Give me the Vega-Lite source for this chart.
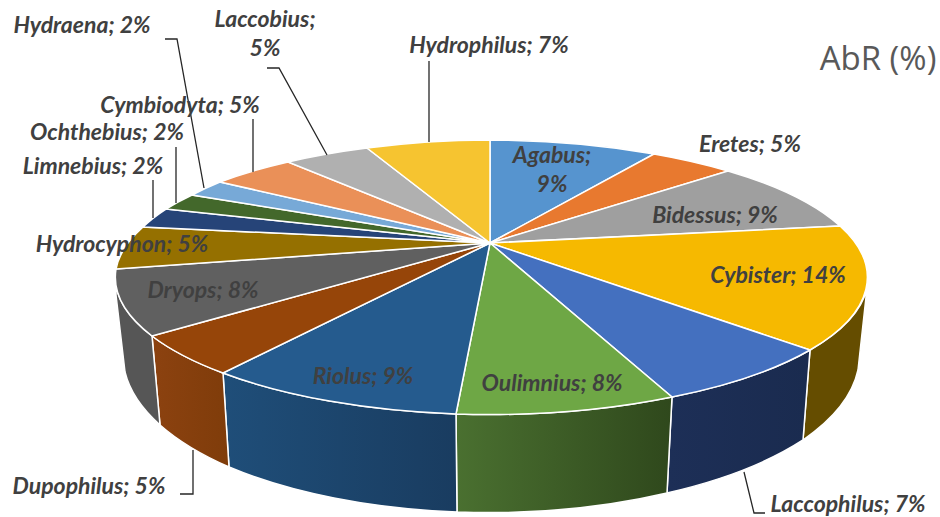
{
"$schema":"https://vega.github.io/schema/vega-lite/v6.json",
"width":940,"height":517,"padding":0,"autosize":"none",
"background":"white",
"view":{"stroke":null},
"datasets":{"slices":[
{"genus":"Agabus","value":9,"label":"Agabus;\n9%","label_x":552,"label_y":156},
{"genus":"Eretes","value":5,"label":"Eretes; 5%","label_x":750,"label_y":145},
{"genus":"Bidessus","value":9,"label":"Bidessus; 9%","label_x":715,"label_y":216},
{"genus":"Cybister","value":14,"label":"Cybister; 14%","label_x":778,"label_y":276},
{"genus":"Laccophilus","value":7,"label":"Laccophilus; 7%","label_x":848,"label_y":505},
{"genus":"Oulimnius","value":8,"label":"Oulimnius; 8%","label_x":552,"label_y":384},
{"genus":"Riolus","value":9,"label":"Riolus; 9%","label_x":363,"label_y":377},
{"genus":"Dupophilus","value":5,"label":"Dupophilus; 5%","label_x":89,"label_y":487},
{"genus":"Dryops","value":8,"label":"Dryops; 8%","label_x":203,"label_y":291},
{"genus":"Hydrocyphon","value":5,"label":"Hydrocyphon; 5%","label_x":122,"label_y":245},
{"genus":"Limnebius","value":2,"label":"Limnebius; 2%","label_x":93,"label_y":167},
{"genus":"Ochthebius","value":2,"label":"Ochthebius; 2%","label_x":107,"label_y":133},
{"genus":"Hydraena","value":2,"label":"Hydraena; 2%","label_x":82,"label_y":26},
{"genus":"Cymbiodyta","value":5,"label":"Cymbiodyta; 5%","label_x":180,"label_y":106},
{"genus":"Laccobius","value":5,"label":"Laccobius;\n5%","label_x":265,"label_y":20},
{"genus":"Hydrophilus","value":7,"label":"Hydrophilus; 7%","label_x":489,"label_y":46}
],"heading":[{"name":"AbR (%)","x":878,"y":60}]},
"data":{"name":"slices"},
"layer":[
{"transform":[{"filter":{"field":"genus","oneOf":["Dryops","Dupophilus","Riolus","Oulimnius","Laccophilus","Cybister"]}}],
"mark":{"type":"point","filled":true,"opacity":1,"stroke":"white","strokeWidth":1.5,"size":4},
"encoding":{
"x":{"datum":0,"type":"quantitative","scale":{"domain":[0,940],"range":[0,940]},"axis":null},
"y":{"datum":0,"type":"quantitative","scale":{"domain":[0,517],"range":[0,517]},"axis":null},
"shape":{"field":"genus","type":"nominal","legend":null,"scale":{"domain":["Dryops","Dupophilus","Riolus","Oulimnius","Laccophilus","Cybister"],"range":[
"M116,285A376,137,0,0,0,152,336L160,425A372,160,0,0,1,125,372L116,295Z",
"M152,336A376,137,0,0,0,223,373L229,467A372,160,0,0,1,160,425Z",
"M223,373A376,137,0,0,0,456,414L457,512A372,160,0,0,1,229,467Z",
"M456,414A376,137,0,0,0,672,397L667,493A372,160,0,0,1,457,512Z",
"M672,397A376,137,0,0,0,810,350L803,440A372,160,0,0,1,667,493Z",
"M810,350A376,137,0,0,0,867,288L858,370A372,160,0,0,1,803,440Z"]}},
"fill":{"condition":[
{"test":{"field":"genus","equal":"Dryops"},"value":"#565656"},
{"test":{"field":"genus","equal":"Cybister"},"value":"#654d00"},
{"test":{"field":"genus","equal":"Dupophilus"},"value":{"gradient":"linear","x1":0,"x2":1,"y1":0,"y2":0,"stops":[{"offset":0,"color":"#8c4210"},{"offset":1,"color":"#7f3c0a"}]}},
{"test":{"field":"genus","equal":"Riolus"},"value":{"gradient":"linear","x1":0,"x2":1,"y1":0,"y2":0,"stops":[{"offset":0,"color":"#1f4e79"},{"offset":1,"color":"#193c60"}]}},
{"test":{"field":"genus","equal":"Oulimnius"},"value":{"gradient":"linear","x1":0,"x2":1,"y1":0,"y2":0,"stops":[{"offset":0,"color":"#4a7030"},{"offset":1,"color":"#2f481c"}]}}
],"value":{"gradient":"linear","x1":0,"x2":1,"y1":0,"y2":0,"stops":[{"offset":0,"color":"#1d2f57"},{"offset":1,"color":"#1a2b4f"}]}}
}},
{"mark":{"type":"point","filled":true,"opacity":1,"stroke":"white","strokeWidth":1.5,"size":4},
"encoding":{
"x":{"datum":0,"type":"quantitative","scale":{"domain":[0,940],"range":[0,940]},"axis":null},
"y":{"datum":0,"type":"quantitative","scale":{"domain":[0,517],"range":[0,517]},"axis":null},
"shape":{"field":"genus","type":"nominal","legend":null,"scale":{"domain":["Agabus","Eretes","Bidessus","Cybister","Laccophilus","Oulimnius","Riolus","Dupophilus","Dryops","Hydrocyphon","Limnebius","Ochthebius","Hydraena","Cymbiodyta","Laccobius","Hydrophilus"],"range":[
"M490,243L490,140A376,137,0,0,1,654,154Z",
"M490,243L654,154A376,137,0,0,1,728,171Z",
"M490,243L728,171A376,137,0,0,1,840,226Z",
"M490,243L840,226A376,137,0,0,1,810,350Z",
"M490,243L810,350A376,137,0,0,1,672,397Z",
"M490,243L672,397A376,137,0,0,1,456,414Z",
"M490,243L456,414A376,137,0,0,1,223,373Z",
"M490,243L223,373A376,137,0,0,1,152,336Z",
"M490,243L152,336A376,137,0,0,1,116,269Z",
"M490,243L116,269A376,137,0,0,1,143,227Z",
"M490,243L143,227A376,137,0,0,1,166,209Z",
"M490,243L166,209A376,137,0,0,1,192,195Z",
"M490,243L192,195A376,137,0,0,1,220,182Z",
"M490,243L220,182A376,137,0,0,1,288,162Z",
"M490,243L288,162A376,137,0,0,1,367,148Z",
"M490,243L367,148A376,137,0,0,1,490,140Z"]}},
"color":{"field":"genus","type":"nominal","legend":null,"scale":{"domain":["Agabus","Eretes","Bidessus","Cybister","Laccophilus","Oulimnius","Riolus","Dupophilus","Dryops","Hydrocyphon","Limnebius","Ochthebius","Hydraena","Cymbiodyta","Laccobius","Hydrophilus"],"range":["#5694cf","#e8792f","#9f9f9f","#f6b900","#4470bf","#6ea745","#255b8e","#964509","#606060","#957000","#264478","#43682b","#77a9d7","#ea9058","#b0b0b0","#f6c430"]}}
}},
{"transform":[{"filter":{"field":"genus","oneOf":["Hydraena","Laccobius","Hydrophilus","Cymbiodyta","Ochthebius","Limnebius","Dupophilus","Laccophilus"]}}],
"mark":{"type":"point","filled":false,"fill":null,"opacity":1,"color":"#262626","strokeWidth":1.3,"size":4},
"encoding":{
"x":{"datum":0,"type":"quantitative","scale":{"domain":[0,940],"range":[0,940]},"axis":null},
"y":{"datum":0,"type":"quantitative","scale":{"domain":[0,517],"range":[0,517]},"axis":null},
"shape":{"field":"genus","type":"nominal","legend":null,"scale":{"domain":["Hydraena","Laccobius","Hydrophilus","Cymbiodyta","Ochthebius","Limnebius","Dupophilus","Laccophilus"],"range":[
"M165,39L177,39L204,188",
"M267,68L279,68L327,155",
"M429,61L429,142",
"M253,119L253,172",
"M176,147L176,203",
"M153,180L153,218",
"M180,494L193,494L193,450",
"M765,513L754,513L744,472"]}}
}},
{"mark":{"type":"text","font":"Lato","fontSize":23,"fontWeight":"bold","fontStyle":"italic","color":"#404040","align":"center","baseline":"middle","lineBreak":"\n","lineHeight":29},
"encoding":{
"x":{"field":"label_x","type":"quantitative","scale":{"domain":[0,940],"range":[0,940]},"axis":null},
"y":{"field":"label_y","type":"quantitative","scale":{"domain":[0,517],"range":[0,517]},"axis":null},
"text":{"field":"label"}
}},
{"data":{"name":"heading"},
"mark":{"type":"text","font":"Open Sans","fontSize":33,"color":"#595959","align":"center","baseline":"middle"},
"encoding":{
"x":{"field":"x","type":"quantitative","scale":{"domain":[0,940],"range":[0,940]},"axis":null},
"y":{"field":"y","type":"quantitative","scale":{"domain":[0,517],"range":[0,517]},"axis":null},
"text":{"field":"name"}
}}
],
"resolve":{"scale":{"shape":"independent","color":"independent"}}
}
